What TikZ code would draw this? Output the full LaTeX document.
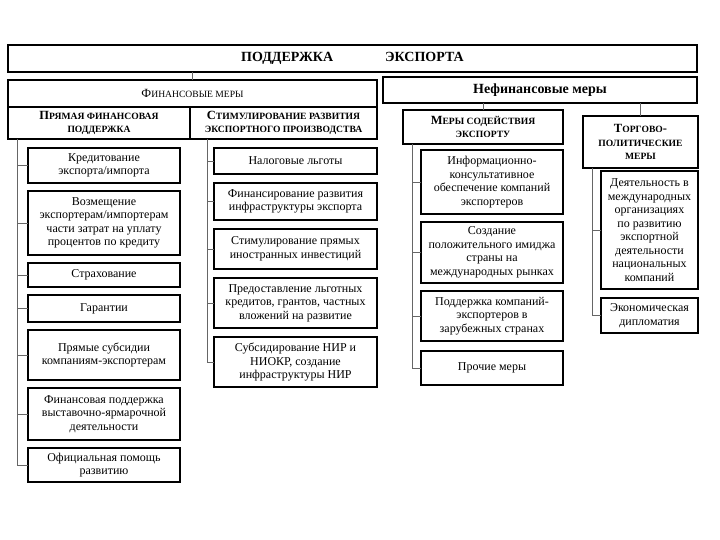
\documentclass[tikz,border=0pt]{standalone}
\usepackage{fontspec}
\setmainfont{Liberation Serif}
\usetikzlibrary{positioning}
\newcommand{\smc}[1]{{\fontsize{9.6}{13}\selectfont #1}}
\tikzset{
	block/.style={
		rectangle,
		draw=black,
		line width=1.1pt,
		fill=white,
		align=center,
		inner sep=1pt,
		outer sep=0pt,
		anchor=north west
	},
	header/.style={
		block,
		font=\bfseries\fontsize{12.5}{13.5}\selectfont
	},
	item/.style={
		block,
		anchor=north,
		font=\fontsize{12}{13.5}\selectfont
	},
	link/.style={
		draw=black!60,
		line width=0.9pt
	},
}

\begin{document}
\begin{tikzpicture}[x=1pt,y=-1pt,node distance=8pt]
	\useasboundingbox (0,0) rectangle (720,540);
	% headers
	\node[header,minimum width=689pt,minimum height=27pt,font=\bfseries\fontsize{14}{16}\selectfont] (top) at (8,45) {ПОДДЕРЖКА\hspace{52pt}ЭКСПОРТА};
	\node[header,minimum width=369pt,minimum height=27pt,font=\fontsize{12.5}{14}\selectfont] (fin) at (8,80) {Ф\smc{ИНАНСОВЫЕ МЕРЫ}};
	\node[header,minimum width=182pt,minimum height=32pt] (pfin) at (8,107) {П\smc{РЯМАЯ ФИНАНСОВАЯ}\\\smc{ПОДДЕРЖКА}};
	\node[header,minimum width=187pt,minimum height=32pt] (stim) at (190,107) {С\smc{ТИМУЛИРОВАНИЕ РАЗВИТИЯ}\\\smc{ЭКСПОРТНОГО ПРОИЗВОДСТВА}};
	\node[header,minimum width=314pt,minimum height=26pt,font=\bfseries\fontsize{14}{16}\selectfont] (nonfin) at (383,77) {Нефинансовые меры};
	\node[header,minimum width=160pt,minimum height=34pt] (mso) at (403,110) {М\smc{ЕРЫ СОДЕЙСТВИЯ}\\\smc{ЭКСПОРТУ}};
	\node[header,minimum width=115pt,minimum height=52pt] (tpm) at (583,116) {Т\smc{ОРГОВО}-\\\smc{ПОЛИТИЧЕСКИЕ}\\\smc{МЕРЫ}};

	% direct financial support
	\node[item,minimum width=152pt,minimum height=35pt] (l1) at (104,148) {Кредитование\\экспорта/импорта};
	\node[item,minimum width=152pt,minimum height=64pt] (l2) [below=of l1] {Возмещение\\экспортерам/импортерам\\части затрат на уплату\\процентов по кредиту};
	\node[item,minimum width=152pt,minimum height=24pt] (l3) [below=of l2] {Страхование};
	\node[item,minimum width=152pt,minimum height=27pt] (l4) [below=of l3] {Гарантии};
	\node[item,minimum width=152pt,minimum height=50pt] (l5) [below=of l4] {Прямые субсидии\\компаниям-экспортерам};
	\node[item,minimum width=152pt,minimum height=52pt] (l6) [below=of l5] {Финансовая поддержка\\выставочно-ярмарочной\\деятельности};
	\node[item,minimum width=152pt,minimum height=34pt] (l7) [below=of l6] {Официальная помощь\\развитию};

	% export production
	\node[item,minimum width=163pt,minimum height=26pt] (m1) at (295.5,148) {Налоговые льготы};
	\node[item,minimum width=163pt,minimum height=37pt] (m2) [below=9pt of m1] {Финансирование развития\\инфраструктуры экспорта};
	\node[item,minimum width=163pt,minimum height=40pt] (m3) [below=9pt of m2] {Стимулирование прямых\\иностранных инвестиций};
	\node[item,minimum width=163pt,minimum height=50pt] (m4) [below=9pt of m3] {Предоставление льготных\\кредитов, грантов, частных\\вложений на развитие};
	\node[item,minimum width=163pt,minimum height=50pt] (m5) [below=9pt of m4] {Субсидирование НИР и\\НИОКР, создание\\инфраструктуры НИР};

	% export promotion
	\node[item,minimum width=142pt,minimum height=64pt] (r1) at (492,150) {Информационно-\\консультативное\\обеспечение компаний\\экспортеров};
	\node[item,minimum width=142pt,minimum height=61pt] (r2) [below=of r1] {Создание\\положительного имиджа\\страны на\\международных рынках};
	\node[item,minimum width=142pt,minimum height=50pt] (r3) [below=of r2] {Поддержка компаний-\\экспортеров в\\зарубежных странах};
	\node[item,minimum width=142pt,minimum height=34pt] (r4) [below=10pt of r3] {Прочие меры};

	% trade policy
	\node[item,minimum width=97pt,minimum height=118pt] (t1) at (649.5,171) {Деятельность в\\международных\\организациях\\по развитию\\экспортной\\деятельности\\национальных\\компаний};
	\node[item,minimum width=97pt,minimum height=35pt] (t2) [below=9pt of t1] {Экономическая\\дипломатия};

	% links between headers
	\draw[link] (fin.north) -- (fin.north |- top.south);
	\draw[link] (mso.north) -- (mso.north |- nonfin.south);
	\draw[link] (tpm.north) -- (tpm.north |- nonfin.south);

	% spines
	\coordinate (lspine) at ([xshift=9pt]pfin.south west);
	\coordinate (mspine) at ([xshift=17pt]stim.south west);
	\coordinate (rspine) at ([xshift=9pt]mso.south west);
	\coordinate (tspine) at ([xshift=9pt]tpm.south west);
	\draw[link] (lspine) |- (l7.west);
	\draw[link] (mspine) |- (m5.west);
	\draw[link] (rspine) |- (r4.west);
	\draw[link] (tspine) |- (t2.west);
	\foreach \n in {l1,l2,l3,l4,l5,l6}
		\draw[link] (lspine |- \n.west) -- (\n.west);
	\foreach \n in {m1,m2,m3,m4}
		\draw[link] (mspine |- \n.west) -- (\n.west);
	\foreach \n in {r1,r2,r3}
		\draw[link] (rspine |- \n.west) -- (\n.west);
	\draw[link] (tspine |- t1.west) -- (t1.west);
\end{tikzpicture}
\end{document}
